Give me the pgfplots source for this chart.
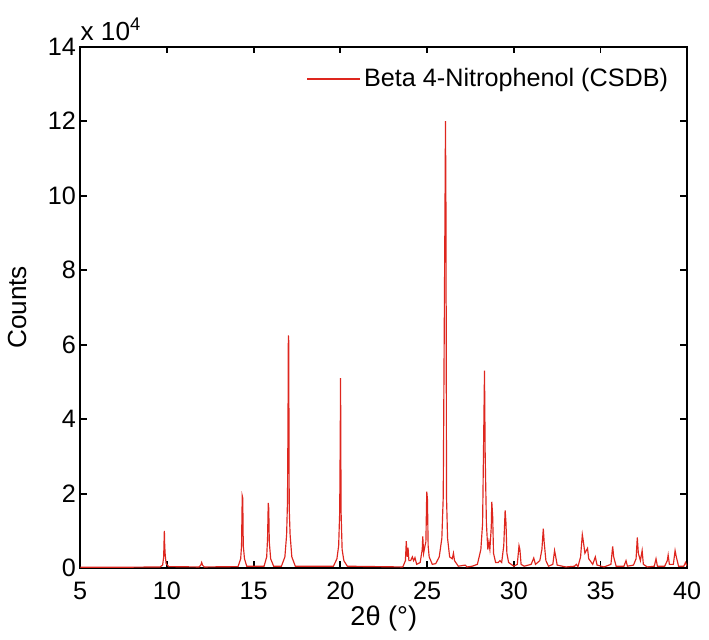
\documentclass[border=0pt,12pt]{standalone}
\usepackage{fontspec}
\setmainfont{Liberation Sans}
\usepackage{pgfplots}
\pgfplotsset{compat=1.18}
\definecolor{xrdred}{RGB}{222,38,30}

\begin{document}
\begin{tikzpicture}
  \begin{axis}[
      scale only axis,
      width=312bp,
      height=268bp,
      xmin=5, xmax=40,
      ymin=0, ymax=14,
      xtick={5,10,...,40},
      ytick={0,2,...,14},
      tick align=inside,
      major tick length=3.5bp,
      axis line style={line width=1pt},
      every tick/.style={black, line width=1pt},
      /pgf/number format/assume math mode=true,
      tick label style={font=\fontsize{13}{15}\selectfont},
      yticklabel style={xshift=2bp},
      xticklabel style={yshift=-3bp},
      xlabel={2θ (°)},
      ylabel={Counts},
      xlabel style={font=\fontsize{14}{16}\selectfont, yshift=5pt},
      ylabel style={font=\fontsize{13.5}{16}\selectfont, yshift=3pt},
      clip mode=individual,
      legend style={
        at={(0.985,0.975)},
        anchor=north east,
        draw=none,
        fill=none,
        font=\fontsize{13}{16}\selectfont
      },
      legend image code/.code={\draw[#1, line width=0.8pt] (0cm,0cm) -- (0.95cm,0cm);},
    ]
    % counts in units of 10^4
    \addplot[xrdred, line width=0.6pt] coordinates {
      (5,0.02) (7,0.02) (9.5,0.03)
      (9.6,0.03) (9.75,0.08) (9.81,0.3) (9.84,0.85) (9.85,1.0) (9.87,0.6) (9.9,0.35) (9.95,0.12) (10.1,0.04)
      (11.85,0.03) (11.95,0.08) (12.0,0.15) (12.05,0.08) (12.15,0.03)
      (14.1,0.04) (14.25,0.25) (14.3,0.6) (14.34,1.94) (14.37,1.88) (14.4,0.6) (14.47,0.25) (14.6,0.05)
      (15.6,0.05) (15.75,0.3) (15.8,0.8) (15.84,1.75) (15.87,1.6) (15.9,0.7) (15.98,0.25) (16.15,0.05)
      (16.6,0.05) (16.8,0.3) (16.9,0.9) (16.95,1.8) (16.98,4.0) (17.0,6.25) (17.02,6.1) (17.05,1.6) (17.1,0.9) (17.2,0.3) (17.4,0.05)
      (19.6,0.05) (19.8,0.25) (19.9,0.6) (19.96,1.5) (19.99,3.4) (20.01,5.1) (20.04,1.5) (20.1,0.5) (20.2,0.2) (20.4,0.05)
      (22.0,0.04) (23.6,0.03)
      (23.75,0.2) (23.8,0.72) (23.85,0.3) (23.9,0.55) (23.95,0.2) (24.05,0.2) (24.15,0.3) (24.22,0.2) (24.3,0.28) (24.4,0.1)
      (24.6,0.15) (24.72,0.5) (24.75,0.85) (24.8,0.4) (24.88,0.6) (24.93,0.7) (24.98,2.05) (25.02,1.85) (25.06,0.6) (25.12,0.3)
      (25.3,0.1) (25.5,0.12) (25.7,0.3) (25.85,0.8) (25.93,1.9) (25.98,5.7) (26.03,9.5) (26.06,12.0) (26.09,9.4) (26.12,1.9)
      (26.18,0.8) (26.3,0.3) (26.45,0.25) (26.52,0.4) (26.58,0.2) (26.8,0.05) (27.2,0.08) (27.3,0.03) (27.6,0.05) (27.9,0.1)
      (28.1,0.5) (28.2,1.2) (28.27,3.8) (28.31,5.3) (28.35,3.0) (28.42,1.2) (28.5,0.5) (28.56,0.7) (28.62,0.5) (28.7,1.1)
      (28.73,1.78) (28.78,1.4) (28.83,0.4) (28.95,0.15) (29.1,0.15) (29.2,0.2) (29.3,0.15) (29.42,0.6) (29.5,1.55) (29.55,1.2)
      (29.6,0.4) (29.7,0.15) (29.85,0.1) (30.0,0.05) (30.2,0.1) (30.3,0.6) (30.35,0.5) (30.42,0.1) (30.6,0.05)
      (31.0,0.1) (31.15,0.27) (31.25,0.1) (31.5,0.2) (31.62,0.5) (31.7,1.06) (31.75,0.7) (31.85,0.2) (32.0,0.05)
      (32.25,0.1) (32.35,0.47) (32.4,0.35) (32.5,0.08) (33.0,0.03) (33.5,0.05) (33.6,0.1) (33.7,0.04)
      (33.85,0.3) (33.95,0.9) (34.0,0.75) (34.1,0.4) (34.25,0.53) (34.32,0.25) (34.55,0.1) (34.7,0.3) (34.8,0.08)
      (35.2,0.03) (35.6,0.1) (35.7,0.58) (35.76,0.3) (35.9,0.05) (36.35,0.05) (36.47,0.2) (36.55,0.05)
      (36.9,0.08) (37.05,0.25) (37.12,0.82) (37.18,0.4) (37.3,0.2) (37.4,0.47) (37.47,0.1) (37.7,0.03)
      (38.1,0.05) (38.2,0.25) (38.28,0.05) (38.7,0.05) (38.85,0.2) (38.9,0.35) (38.97,0.1)
      (39.2,0.1) (39.3,0.47) (39.37,0.3) (39.5,0.05) (39.8,0.05) (39.9,0.15) (40,0.05)
    };
    \legend{Beta 4-Nitrophenol (CSDB)}
    \node[anchor=base west, inner sep=0pt, yshift=3bp, font=\fontsize{13.5}{16}\selectfont] at (rel axis cs:0,1) {x 10\textsuperscript{4}};
  \end{axis}
  \path (current axis.north west) -- ++(0,24bp);
\end{tikzpicture}
\end{document}
